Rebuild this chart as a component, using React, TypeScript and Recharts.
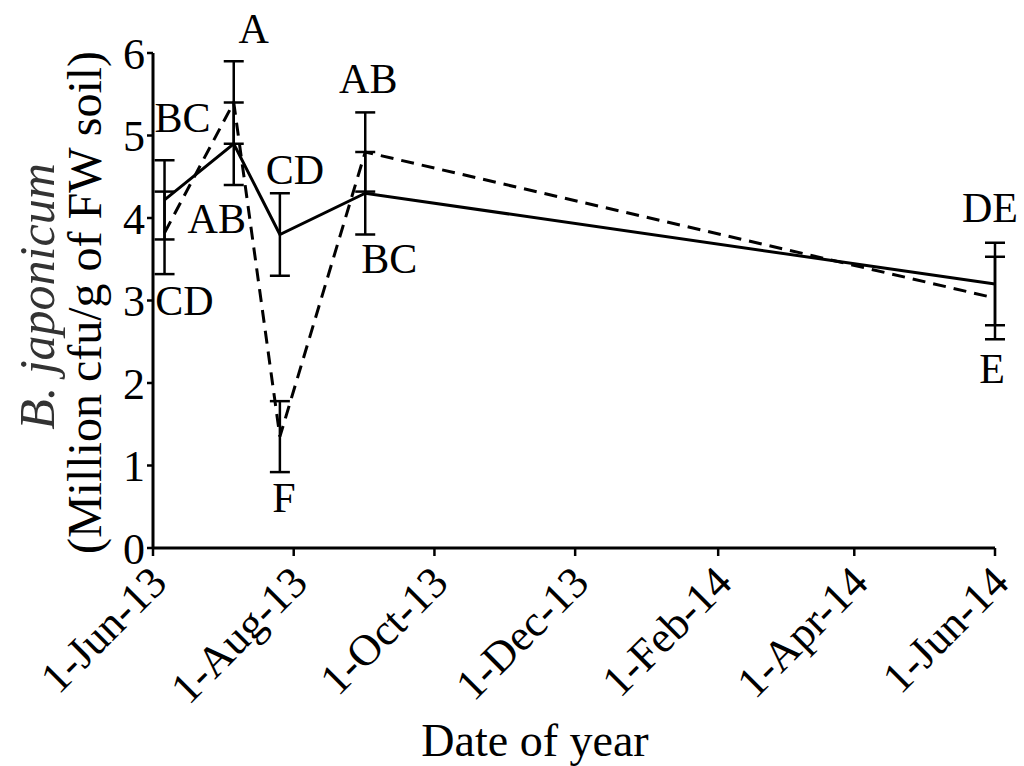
import { LineChart, Line, XAxis, YAxis, ErrorBar, LabelList, Label } from 'recharts';

// sampling dates and group means (million cfu per g fresh-weight soil)
const sampleDates = ['2013-06-06', '2013-07-06', '2013-07-26', '2013-09-01', '2014-06-01'];
const solidMean = [4.22, 4.9, 3.8, 4.3, 3.2];
const solidErr = [0.48, 0.5, 0.5, 0.5, 0.5];
const dashedMean = [3.82, 5.4, 1.35, 4.8, 3.03];
const dashedErr = [0.5, 0.5, 0.43, 0.48, 0.5];
const solidLetters = ['BC', 'AB', 'CD', 'BC', 'DE'];
const dashedLetters = ['CD', 'A', 'F', 'AB', 'E'];

const tickDates = ['2013-06-01', '2013-08-01', '2013-10-01', '2013-12-01', '2014-02-01', '2014-04-01', '2014-06-01'];
const tickLabels = ['1-Jun-13', '1-Aug-13', '1-Oct-13', '1-Dec-13', '1-Feb-14', '1-Apr-14', '1-Jun-14'];
const yTicks = [0, 1, 2, 3, 4, 5, 6];

const tickTimes = tickDates.map((d) => Date.parse(d));

const data = sampleDates.map((d, i) => ({
    t: Date.parse(d),
    solid: solidMean[i],
    solidErr: solidErr[i],
    dashed: dashedMean[i],
    dashedErr: dashedErr[i],
    solidLetter: solidLetters[i],
    dashedLetter: dashedLetters[i],
}));

const FONT = '"Liberation Serif", "Times New Roman", serif';

// where each significance letter sits relative to its point (dx, baseline dy)
const solidLetterPos = [[18, -68], [-17, 89], [15, -51], [24, 80], [-5, -62]];
const dashedLetterPos = [[20, 82], [20, -60], [4, 75], [3, -59], [-3, 85]];

const letterRenderer = (pos: number[][]) => (props: any) => {
    const { index, value } = props;
    const x = props.x ?? props.viewBox?.x;
    const y = props.y ?? props.viewBox?.y;
    const [dx, dy] = pos[index];
    return (
        <text x={x + dx} y={y + dy} textAnchor="middle" fontSize={42} fontFamily={FONT} fill="#000">
            {value}
        </text>
    );
};

const DateTick = (props: any) => {
    const { x, y, payload } = props;
    const i = tickTimes.indexOf(payload.value);
    const ax = x + 16;
    const ay = y + 27;
    return (
        <text
            x={ax}
            y={ay}
            textAnchor="end"
            transform={`rotate(-45 ${ax} ${ay})`}
            fontSize={44}
            fontFamily={FONT}
            fill="#000"
        >
            {tickLabels[i]}
        </text>
    );
};

const YTitle = (props: any) => {
    const { x, y, height } = props.viewBox;
    const cy = y + height / 2 + 2;
    return (
        <g fontFamily={FONT} fill="#000">
            <text x={x - 39} y={cy - 6} textAnchor="middle" transform={`rotate(-90 ${x - 39} ${cy - 6})`} fontSize={50} fontStyle="italic" fill="#333">
                B. japonicum
            </text>
            <text x={x + 8} y={cy} textAnchor="middle" transform={`rotate(-90 ${x + 8} ${cy})`} fontSize={48}>
                (Million cfu/g of FW soil)
            </text>
        </g>
    );
};

const XTitle = (props: any) => {
    const { x, y, width } = props.viewBox;
    return (
        <text x={x + width / 2 - 39} y={y + 208} textAnchor="middle" fontFamily={FONT} fontSize={46} fill="#000">
            Date of year
        </text>
    );
};

export default function App() {
    return (
        <div style={{ position: 'absolute', left: 0, top: 0, background: '#fff' }}>
            <LineChart width={1024} height={766} data={data} margin={{ top: 53, right: 29, left: 93, bottom: 0 }}>
                <XAxis
                    type="number"
                    dataKey="t"
                    domain={[tickTimes[0], tickTimes[tickTimes.length - 1]]}
                    ticks={tickTimes}
                    interval={0}
                    height={218}
                    tick={<DateTick />}
                    tickSize={8}
                    axisLine={{ stroke: '#000', strokeWidth: 3 }}
                    tickLine={{ stroke: '#000', strokeWidth: 2.5 }}
                >
                    <Label content={<XTitle />} />
                </XAxis>
                <YAxis
                    domain={[0, 6]}
                    ticks={yTicks}
                    interval={0}
                    width={60}
                    tickSize={6}
                    tick={{ fontSize: 44, fill: '#000', fontFamily: FONT }}
                    axisLine={{ stroke: '#000', strokeWidth: 3 }}
                    tickLine={{ stroke: '#000', strokeWidth: 2.5 }}
                >
                    <Label content={<YTitle />} />
                </YAxis>
                <Line
                    type="linear"
                    dataKey="solid"
                    stroke="#000"
                    strokeWidth={3}
                    dot={false}
                    isAnimationActive={false}
                >
                    <ErrorBar dataKey="solidErr" width={10} stroke="#000" strokeWidth={2.5} direction="y" isAnimationActive={false} />
                    <LabelList dataKey="solidLetter" content={letterRenderer(solidLetterPos)} />
                </Line>
                <Line
                    type="linear"
                    dataKey="dashed"
                    stroke="#000"
                    strokeWidth={3}
                    strokeDasharray="13 8"
                    dot={false}
                    isAnimationActive={false}
                >
                    <ErrorBar dataKey="dashedErr" width={10} stroke="#000" strokeWidth={2.5} direction="y" isAnimationActive={false} />
                    <LabelList dataKey="dashedLetter" content={letterRenderer(dashedLetterPos)} />
                </Line>
            </LineChart>
        </div>
    );
}
